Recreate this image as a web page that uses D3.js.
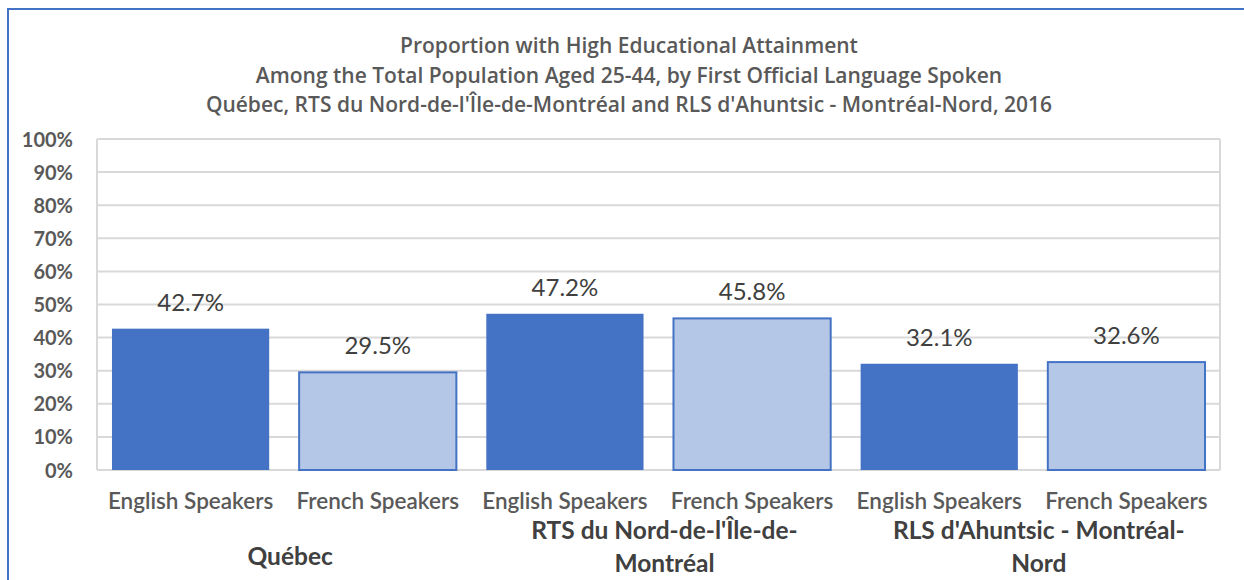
<!DOCTYPE html>
<html>
<head>
  <meta charset="utf-8">
  <script src="https://d3js.org/d3.v7.min.js"></script>
  <style>
    body { margin: 0; background: #fff; }
    text { font-family: Lato, 'Open Sans', sans-serif; }
    .title { fill: #595959; font-family: 'Open Sans', sans-serif; font-weight: 600; font-size: 21px; }
    .axis text { fill: #595959; font-weight: bold; font-size: 20px; }
    .axis path, .axis line { display: none; }
    .grid line { stroke: #d9d9d9; stroke-width: 2; }
    .value { fill: #404040; font-size: 24px; }
    .cat { fill: #595959; font-size: 22.5px; font-weight: 600; }
    .group { fill: #404040; font-size: 24.5px; font-weight: bold; }
  </style>
</head>
<body>
  <svg id="chart" width="1244" height="580"></svg>
  <script>
    var titleLines = [
      'Proportion with High Educational Attainment',
      'Among the Total Population Aged 25-44, by First Official Language Spoken',
      "Québec, RTS du Nord-de-l'Île-de-Montréal and RLS d'Ahuntsic - Montréal-Nord, 2016"
    ];
    var groups = ['Québec', "RTS du Nord-de-l'Île-de-Montréal", "RLS d'Ahuntsic - Montréal-Nord"];
    var groupLabelLines = [
      ['Québec'],
      ["RTS du Nord-de-l'Île-de-", 'Montréal'],
      ["RLS d'Ahuntsic - Montréal-", 'Nord']
    ];
    var speakers = ['English Speakers', 'French Speakers'];
    var englishValues = [42.7, 47.2, 32.1];
    var frenchValues = [29.5, 45.8, 32.6];
    var yTicks = [0, 10, 20, 30, 40, 50, 60, 70, 80, 90, 100];

    var colors = { 'English Speakers': '#4472c4', 'French Speakers': '#b4c7e7' };

    var rows = [];
    groups.forEach((g, i) => {
      rows.push({ key: g + '|' + speakers[0], group: g, speaker: speakers[0], value: englishValues[i] });
      rows.push({ key: g + '|' + speakers[1], group: g, speaker: speakers[1], value: frenchValues[i] });
    });

    var chart = d3.select('#chart');
    var plot = { left: 97, right: 1220, top: 139, bottom: 470 };

    // outer frame
    chart.append('rect')
      .attr('x', 8).attr('y', 9)
      .attr('width', 1260).attr('height', 600)
      .attr('fill', 'none')
      .attr('stroke', '#4472c4')
      .attr('stroke-width', 2);

    chart.append('g').selectAll('text')
      .data(titleLines)
      .join('text')
      .attr('class', 'title')
      .attr('x', 629)
      .attr('y', (d, i) => 53 + i * 29.5)
      .attr('text-anchor', 'middle')
      .text((d) => d);

    var x = d3.scaleBand()
      .domain(rows.map((d) => d.key))
      .range([plot.left, plot.right])
      .paddingInner(0.16)
      .paddingOuter(0.08);

    var y = d3.scaleLinear()
      .domain([0, 100])
      .range([plot.bottom, plot.top]);

    chart.append('g')
      .attr('class', 'grid')
      .selectAll('line')
      .data(yTicks)
      .join('line')
      .attr('x1', plot.left).attr('x2', plot.right)
      .attr('y1', (d) => y(d)).attr('y2', (d) => y(d));

    chart.append('g')
      .attr('class', 'grid')
      .selectAll('line')
      .data([plot.left, plot.right])
      .join('line')
      .attr('x1', (d) => d).attr('x2', (d) => d)
      .attr('y1', plot.top).attr('y2', plot.bottom);

    chart.append('g')
      .attr('class', 'axis')
      .attr('transform', 'translate(' + (plot.left - 14) + ', 0)')
      .call(d3.axisLeft(y).tickValues(yTicks).tickSize(0).tickPadding(10).tickFormat((d) => d + '%'))
      .selectAll('text')
      .attr('dy', '0.35em');

    chart.append('g').selectAll('rect')
      .data(rows)
      .join('rect')
      .attr('x', (d) => x(d.key))
      .attr('y', (d) => y(d.value))
      .attr('width', x.bandwidth())
      .attr('height', (d) => y(0) - y(d.value))
      .attr('fill', (d) => colors[d.speaker])
      .attr('stroke', (d) => d.speaker === speakers[1] ? '#4472c4' : 'none')
      .attr('stroke-width', 2);

    chart.append('g').selectAll('text')
      .data(rows)
      .join('text')
      .attr('class', 'value')
      .attr('x', (d) => x(d.key) + x.bandwidth() / 2)
      .attr('y', (d) => y(d.value) - 18)
      .attr('text-anchor', 'middle')
      .text((d) => d.value.toFixed(1) + '%');

    chart.append('g').selectAll('text')
      .data(rows)
      .join('text')
      .attr('class', 'cat')
      .attr('x', (d) => x(d.key) + x.bandwidth() / 2)
      .attr('y', 509)
      .attr('text-anchor', 'middle')
      .text((d) => d.speaker);

    var groupCenter = (g) => (x(g + '|' + speakers[0]) + x(g + '|' + speakers[1]) + x.bandwidth()) / 2;

    chart.append('g').selectAll('text')
      .data(groups)
      .join('text')
      .attr('class', 'group')
      .attr('text-anchor', 'middle')
      .attr('y', (d, i) => groupLabelLines[i].length === 1 ? 565 : 539)
      .selectAll('tspan')
      .data((d, i) => groupLabelLines[i].map((line) => ({ line: line, cx: groupCenter(d) + 6 })))
      .join('tspan')
      .attr('x', (d) => d.cx)
      .attr('dy', (d, i) => i === 0 ? 0 : 33)
      .text((d) => d.line);
  </script>
</body>
</html>
